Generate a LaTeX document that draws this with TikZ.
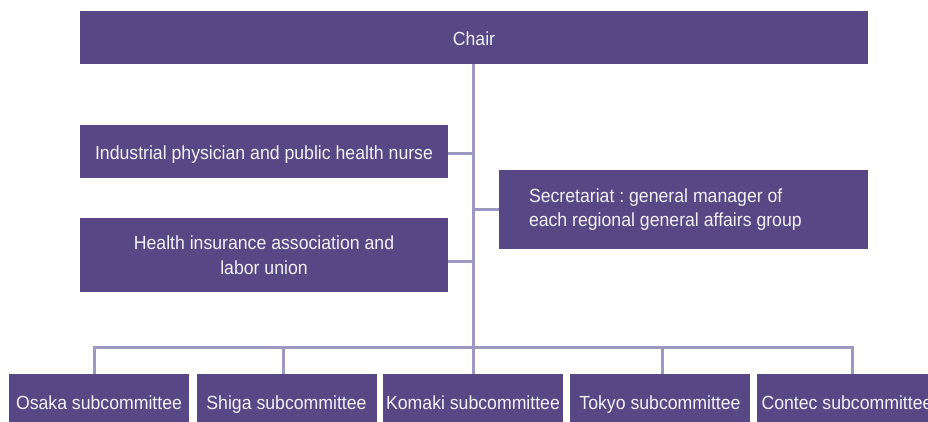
\documentclass[tikz,border=0pt]{standalone}
\usepackage{fontspec}
\setmainfont{Liberation Sans}[FakeStretch = 0.93]
\definecolor{unitpurple}{HTML}{574785}
\definecolor{linklilac}{HTML}{9C98C2}
\definecolor{unittext}{HTML}{F2F1F6}
\frenchspacing

\begin{document}
\begin{tikzpicture}[x = 1pt, y = -1pt,
	unit/.style = {fill = unitpurple, text = unittext, inner sep = 0pt, font = \fontsize{19}{24.5}\selectfont},
	oneline/.style = {unit, text height = 16.6pt, text depth = 0pt},
	subunit/.style = {oneline, minimum width = 180pt, minimum height = 54pt},
	link/.style = {draw = linklilac, line width = 3pt}]

	% Frame
	
	\useasboundingbox (0, 0) rectangle (928, 422);
	\clip (0, 0) rectangle (928, 422);
	
	% Chair
	
	\node [oneline, minimum width = 788pt, minimum height = 53pt] (chair) at (474, 37.5) {Chair};
	
	% Advisors on the left, secretariat on the right
	
	\node [oneline, minimum width = 368pt, minimum height = 53pt] (physician) at (264, 151.5) {Industrial physician and public health nurse};
	\node [unit, align = center, minimum width = 368pt, minimum height = 74pt] (insurance) at (264, 255) {Health insurance association and\\labor union};
	\node [unit, align = flush left, text width = 309pt, inner xsep = 30pt, minimum height = 79pt] (secretariat) at (683.5, 209.5) {Secretariat : general manager of\\each regional general affairs group};
	
	% Subcommittees
	
	\node [subunit] (osaka) at (99, 401) {Osaka subcommittee};
	\node [subunit] (shiga) at (286.5, 401) {Shiga subcommittee};
	\node [subunit] (komaki) at (473, 401) {Komaki subcommittee};
	\node [subunit] (tokyo) at (660, 401) {Tokyo subcommittee};
	\node [subunit] (contec) at (847, 401) {Contec subcommittee};
	
	% Trunk and branches
	
	\draw [link] (komaki.north |- chair.south) -- (komaki.north);
	\draw [link] ([yshift = -2.5pt] physician.east) -- ([yshift = -2.5pt] physician.east -| komaki.north);
	\draw [link] ([yshift = -6.5pt] insurance.east) -- ([yshift = -6.5pt] insurance.east -| komaki.north);
	\draw [link] (secretariat.west) -- (secretariat.west -| komaki.north);
	
	% Bus to the subcommittees
	
	\coordinate (osaka-drop) at (94, 347);
	\coordinate (shiga-drop) at (283.5, 347);
	\coordinate (tokyo-drop) at (662.5, 347);
	\coordinate (contec-drop) at (852, 347);
	\draw [link] (osaka-drop |- osaka.north) -- (osaka-drop) -- (contec-drop) -- (contec-drop |- contec.north);
	\draw [link] (shiga-drop) -- (shiga-drop |- shiga.north);
	\draw [link] (tokyo-drop) -- (tokyo-drop |- tokyo.north);
	
\end{tikzpicture}
\end{document}
